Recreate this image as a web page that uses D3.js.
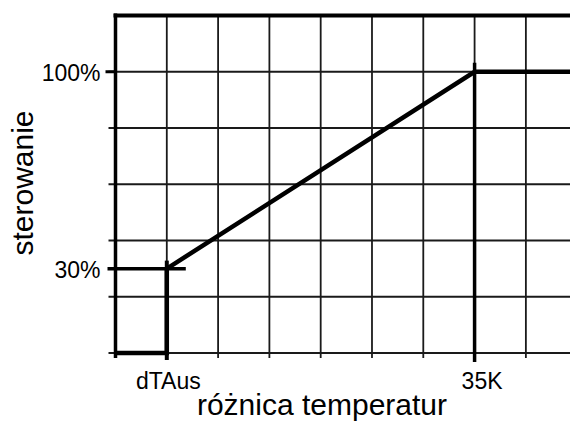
<!DOCTYPE html>
<html>
<head>
<meta charset="utf-8">
<script src="https://cdn.jsdelivr.net/npm/d3@7"></script>
<style>
  body { margin: 0; background: #fff; }
  text { font-family: "Liberation Sans", Arial, sans-serif; fill: #000; }
</style>
</head>
<body>
<div id="chart"></div>
<script>
// data (x in K, y in %)
var gridX = [5, 10, 15, 20, 25, 30, 35, 40];
var gridY = [0, 20, 40, 60, 80, 100];
var curveX = [0, 5, 5, 35, 44.3];
var curveY = [0, 0, 30, 100, 100];
var dTAus = 5, maxDiff = 35;
var minCtrl = 30, maxCtrl = 100;
var xLabelValues = [5, 35];
var xLabelTexts = ["dTAus", "35K"];
var yLabelValues = [30, 100];
var yLabelTexts = ["30%", "100%"];

const W = 570, H = 421;

var svg = d3.select("#chart").append("svg")
    .attr("width", W)
    .attr("height", H);

var xScale = d3.scaleLinear().domain([0, 44.3]).range([115.5, 570]);
var yScale = d3.scaleLinear().domain([0, 120]).range([353, 15.5]);

// horizontal grid lines (with small ticks on the left)
svg.append("g").selectAll("line")
    .data(gridY)
    .enter().append("line")
    .attr("x1", xScale(0) - 7)
    .attr("x2", W)
    .attr("y1", d => yScale(d))
    .attr("y2", d => yScale(d))
    .attr("stroke", "#1a1a1a")
    .attr("stroke-width", 1.8);

// vertical grid lines (with small ticks at bottom)
svg.append("g").selectAll("line")
    .data(gridX)
    .enter().append("line")
    .attr("x1", d => xScale(d))
    .attr("x2", d => xScale(d))
    .attr("y1", yScale(120))
    .attr("y2", yScale(0) + 5)
    .attr("stroke", "#1a1a1a")
    .attr("stroke-width", 1.8);

// frame: top line and left axis
svg.append("line")
    .attr("x1", xScale(0) - 2).attr("x2", W)
    .attr("y1", yScale(120)).attr("y2", yScale(120))
    .attr("stroke", "#000").attr("stroke-width", 4);
svg.append("line")
    .attr("x1", xScale(0)).attr("x2", xScale(0))
    .attr("y1", yScale(120) - 2).attr("y2", yScale(0) + 5)
    .attr("stroke", "#000").attr("stroke-width", 3.5);

// marker lines
svg.append("line")
    .attr("x1", xScale(0) - 10).attr("x2", xScale(0))
    .attr("y1", yScale(maxCtrl)).attr("y2", yScale(maxCtrl))
    .attr("stroke", "#000").attr("stroke-width", 3);
svg.append("line")
    .attr("x1", xScale(0) - 8).attr("x2", xScale(dTAus) + 19)
    .attr("y1", yScale(minCtrl)).attr("y2", yScale(minCtrl))
    .attr("stroke", "#000").attr("stroke-width", 3.5);
svg.append("line")
    .attr("x1", xScale(dTAus)).attr("x2", xScale(dTAus))
    .attr("y1", yScale(minCtrl) - 8).attr("y2", yScale(0) + 7)
    .attr("stroke", "#000").attr("stroke-width", 4);
svg.append("line")
    .attr("x1", xScale(maxDiff)).attr("x2", xScale(maxDiff))
    .attr("y1", yScale(maxCtrl) - 9).attr("y2", yScale(0) + 9)
    .attr("stroke", "#000").attr("stroke-width", 3.5);

// control curve
var line = d3.line()
    .x((d, i) => xScale(curveX[i]))
    .y(d => yScale(d));

svg.append("path")
    .datum(curveY)
    .attr("fill", "none")
    .attr("stroke", "#000")
    .attr("stroke-width", 4.5)
    .attr("stroke-linejoin", "miter")
    .attr("d", line);

// tick labels
svg.append("g").selectAll("text")
    .data(yLabelValues)
    .enter().append("text")
    .attr("x", xScale(0) - 15)
    .attr("y", d => yScale(d) + 9.5)
    .attr("text-anchor", "end")
    .style("font-size", "23px")
    .text((d, i) => yLabelTexts[i]);

var xLabelShift = [1.5, 7.5];
svg.append("g").selectAll("text")
    .data(xLabelValues)
    .enter().append("text")
    .attr("x", (d, i) => xScale(d) + xLabelShift[i])
    .attr("y", 389)
    .attr("text-anchor", "middle")
    .style("font-size", "23px")
    .text((d, i) => xLabelTexts[i]);

// axis titles
svg.append("text")
    .attr("x", 322)
    .attr("y", 415)
    .attr("text-anchor", "middle")
    .style("font-size", "30px")
    .text("różnica temperatur");

svg.append("text")
    .attr("transform", "translate(33,183) rotate(-90)")
    .attr("text-anchor", "middle")
    .style("font-size", "30px")
    .text("sterowanie");
</script>
</body>
</html>
